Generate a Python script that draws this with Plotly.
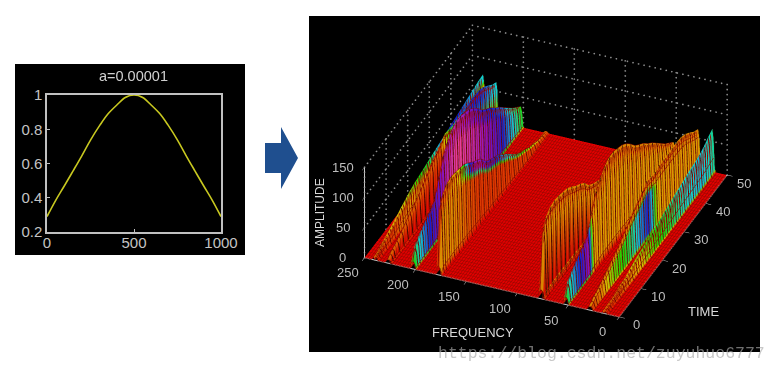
import numpy as np
import plotly.graph_objects as go

W, H = 777, 373
# ---- left chart data
win_x = [0, 50, 100, 150, 200, 250, 304, 350, 400, 450, 500, 550, 600, 650, 696, 750, 800, 850, 900, 950, 1000]
win_y = [.29, .385, .47, .557, .645, .737, .824, .889, .94, .985, 1, .985, .94, .889, .824, .737, .645, .557, .47, .385, .29]
win_xticks = [0, 500, 1000]
win_yticks = [.2, .4, .6, .8, 1]
win_ylabels = ["0.2", "0.4", "0.6", "0.8", "1"]

# ---- spectrogram data
time_rows = [0, 1, 2, 4, 6, 8, 10, 12, 14, 16, 18, 20, 22, 24, 26, 28, 30, 32, 34, 36, 38, 40, 42, 44, 46, 48, 50]
amp_50 = [12, 30, 40, 48, 55, 60, 68, 95, 122, 135, 145, 150, 150, 146, 142, 135, 125, 113, 105, 98, 88, 80, 70, 60, 50, 42, 34]
amp_75 = [15, 115, 125, 133, 135, 133, 130, 127, 120, 112, 106, 98, 85, 78, 73, 68, 58, 50, 40, 31, 25, 20, 14, 10, 6, 4, 3]
amp_100 = [6, 10, 14, 18, 24, 30, 36, 42, 48, 56, 64, 72, 78, 84, 92, 90, 88, 90, 90, 90, 90, 90, 89, 85, 78, 70, 65]
amp_237 = [5, 7, 9, 12, 16, 20, 25, 30, 35, 39, 42, 44, 46, 48, 50, 52, 54, 56, 58, 60, 62, 64, 66, 68, 70, 72, 73]
amp_12 = [3, 4, 5, 7, 9, 11, 12, 16, 20, 23, 25, 28, 30, 33, 35, 38, 40, 43, 45, 47, 50, 52, 53, 56, 60, 66, 71]

c_175_wall = [.12, .12, .12, .12, .12, .11, .1, .08, .07, .06, .05, .05, .05, .05, .05, .05, .05, .05, .05, .05, .05, .05, .05, .05, .05, .05, .05]
c_175_top = [.05, .08, .08, .1, .12, .14, .2, .4, .6, .75, .8, .78, .72, .7, .68, .62, .55, .5, .45, .4, .35, .3, .25, .2, .15, .1, .08]
c_200_wall = [.33, .42, .48, .55, .62, .68, .72, .76, .8, .85, .88, .9, .9, .88, .86, .84, .82, .8, .78, .75, .72, .68, .62, .55, .5, .42, .36]
c_200_top = [.33, .42, .48, .55, .62, .68, .72, .76, .8, .82, .84, .84, .82, .8, .78, .75, .72, .7, .68, .66, .64, .62, .58, .5, .45, .4, .33]
c_224_wall = [.05] * 14 + [.1, .15, .3, .4, .5, .55, .6, .62, .62, .6, .55, .5, .5]
c_224_top = [.08] * 14 + [.2, .3, .45, .55, .6, .62, .65, .66, .66, .62, .58, .52, .5]
c_237_wall = [.03, .03, .03, .05, .05, .06, .08, .1, .1, .12, .12, .12, .12, .14, .14, .14, .14, .14, .14, .14, .14, .14, .14, .14, .14, .14, .14]
c_237_top = [.1, .1, .12, .13, .14, .15, .15, .17, .2, .24, .28, .32, .35, .36, .42, .5, .55, .6, .64, .66, .66, .62, .58, .55, .52, .5, .5]
c_74_wall = [.12] * 27
c_74_top = [.11] * 27
c_50_wall = [.35, .45, .5, .58, .66, .72, .8, .14, .13, .13, .13, .13, .13, .13, .13, .13, .13, .13, .13, .13, .13, .13, .13, .13, .13, .13, .13]
c_50_top = [.35, .45, .5, .58, .66, .72, .8, .14, .11, .11, .11, .11, .11, .11, .11, .11, .11, .11, .11, .11, .11, .11, .11, .11, .11, .11, .11]
c_26_wall = [.05, .06, .08, .1, .14, .2, .26, .3, .33, .36, .42, .48, .55, .6, .66, .5, .2, .13, .13, .13, .13, .13, .13, .13, .13, .13, .13]
c_26_top = [.11] * 27
c_12_wall = [.03, .03, .04, .05, .06, .08, .1, .12, .14, .16, .2, .26, .3, .33, .34, .36, .38, .42, .45, .48, .5, .5, .52, .52, .5, .48, .45]
c_12_top = [.1, .1, .1, .1, .12, .13, .15, .17, .2, .24, .28, .32, .35, .36, .38, .4, .42, .45, .48, .5, .5, .5, .52, .52, .5, .48, .45]

ridges = [
    (12, amp_12, c_12_wall, c_12_top),
    (26, amp_100, c_26_wall, c_26_top),
    (50, amp_50, c_50_wall, c_50_top),
    (74, amp_75, c_74_wall, c_74_top),
    (175, amp_75, c_175_wall, c_175_top),
    (200, amp_50, c_200_wall, c_200_top),
    (224, amp_100, c_224_wall, c_224_top),
    (237, amp_237, c_237_wall, c_237_top),
]
section_offset = [-1, 0, 1.2, 1.8, 2.5, 4, 6]
section_height = [0, .08, .75, .88, 1, .85, 0]
section_colour = [0, 1, 1, 2, 2, 2, 0]  # 0 floor, 1 wall, 2 top

floor_freqs = list(range(0, 251, 5))
freqs = sorted(set(floor_freqs) | {r[0] + o for r in ridges for o in section_offset})
F, T = np.array(freqs, float), np.array(time_rows, float)
Z = np.zeros((len(F), len(T)))
C = np.zeros_like(Z)
for f0, amp, wall, top in ridges:
    for off, h, ci in zip(section_offset, section_height, section_colour):
        i = freqs.index(f0 + off)
        Z[i] = np.array(amp) * h
        C[i] = [0 * np.array(wall), np.array(wall), np.array(top)][ci]

hsv_scale = [[0, "#e00000"], [.08, "#d86000"], [.16, "#d8c000"], [.33, "#20d000"], [.5, "#10d0d0"],
             [.66, "#1020d0"], [.78, "#8010c0"], [.9, "#e040a0"], [1, "#e00000"]]

freq_ticks = [0, 50, 100, 150, 200, 250]
time_ticks = [0, 10, 20, 30, 40, 50]
amp_ticks = [0, 50, 100, 150]

def px(x):
    return x / W
def py(y):
    return 1 - y / H

fig = go.Figure()
fig.add_trace(go.Surface(
    x=T, y=F, z=Z, surfacecolor=C, colorscale=hsv_scale, cmin=0, cmax=1, showscale=False,
    lighting=dict(ambient=1, diffuse=0, specular=0, roughness=1, fresnel=0),
    contours=dict(
        x=dict(show=True, start=0, end=50, size=1, color="#980800", width=1),
        y=dict(show=True, start=0, end=250, size=2.5, color="#880800", width=1),
    ),
    hoverinfo="skip",
))
# dark mesh lines down the ridge walls, one per time row, just in front of each wall
mx, my, mz = [], [], []
for f0, amp, wall, top in ridges:
    for t, a in zip(time_rows, amp):
        for off, h in zip(section_offset[:5], section_height[:5]):
            mx.append(t)
            my.append(f0 + off - .25)
            mz.append(a * h)
        mx.append(None); my.append(None); mz.append(None)
fig.add_trace(go.Scatter3d(x=mx, y=my, z=mz, mode="lines", line=dict(color="#1c0c00", width=1.6),
                           hoverinfo="skip", showlegend=False))
# dotted back walls, drawn as small dots along the grid lines
gx, gy, gz = [], [], []
def dotted(t0, f0, a0, t1, f1, a1, n):
    for k in range(n + 1):
        gx.append(t0 + (t1 - t0) * k / n)
        gy.append(f0 + (f1 - f0) * k / n)
        gz.append(a0 + (a1 - a0) * k / n)
for f in freq_ticks:
    dotted(50, f, 0, 50, f, 150, 18)
for t in time_ticks:
    dotted(t, 250, 0, t, 250, 150, 18)
for a in amp_ticks[1:]:
    dotted(0, 250, a, 50, 250, a, 36)
    dotted(50, 250, a, 50, 0, a, 46)
fig.add_trace(go.Scatter3d(x=gx, y=gy, z=gz, mode="markers", marker=dict(color="#8c8c8c", size=1, line=dict(width=0)),
                           hoverinfo="skip", showlegend=False))

fig.add_trace(go.Scatter(x=win_x, y=win_y, mode="lines", line=dict(color="#c8c820", width=1.6, shape="spline"),
                         hoverinfo="skip", showlegend=False))

ax3 = dict(showbackground=False, showgrid=False, zeroline=False, showspikes=False, showline=True,
           linecolor="#c8c8c8", linewidth=2, ticks="outside", ticklen=6, tickcolor="#c8c8c8",
           showticklabels=False, title=dict(text=""))
lab = dict(showarrow=False, font=dict(family="Liberation Sans", size=13, color="#bdbdbd"))
scene_ann = []
for f in freq_ticks:
    scene_ann.append(dict(lab, x=0, y=f, z=0, text=str(f), xshift=-17, yshift=-15))
for t in time_ticks:
    scene_ann.append(dict(lab, x=t, y=0, z=0, text=str(t), xshift=17, yshift=-8))
for a in amp_ticks:
    scene_ann.append(dict(lab, x=0, y=250, z=a, text=str(a), xshift=-22, yshift=0))

scene_dom = dict(x=[310 / W, 760 / W], y=[py(352), py(16)])
ASPECT = 1.75
cen = dict(x=-.064, y=.043, z=-.064)
ann = dict(xref="paper", yref="paper", showarrow=False, xanchor="center", yanchor="middle")
fnt = dict(family="Liberation Sans", size=13, color="#d8d8d8")
tickf = dict(family="Liberation Sans", size=15, color="#c4c4c4")
fig.update_layout(
    width=W, height=H, margin=dict(l=0, r=0, t=0, b=0, autoexpand=False), paper_bgcolor="white", plot_bgcolor="black",
    showlegend=False,
    xaxis=dict(domain=[px(47), px(221)], range=[0, 1000], tickvals=win_xticks, ticktext=[str(v) for v in win_xticks],
               showgrid=False, zeroline=False, showline=True, mirror=True, linecolor="#c0c0c0", linewidth=1.5,
               ticks="inside", ticklen=3, tickcolor="#c0c0c0", tickfont=tickf, ticklabelstandoff=-4),
    yaxis=dict(domain=[py(232), py(95)], range=[.2, 1], tickvals=win_yticks, ticktext=win_ylabels,
               showgrid=False, zeroline=False, showline=True, mirror=True, linecolor="#c0c0c0", linewidth=1.5,
               ticks="inside", ticklen=3, tickcolor="#c0c0c0", tickfont=tickf),
    scene=dict(
        domain=scene_dom, bgcolor="black", annotations=scene_ann,
        xaxis=dict(ax3, range=[0, 50], tickvals=time_ticks),
        yaxis=dict(ax3, range=[0, 250], tickvals=freq_ticks),
        zaxis=dict(ax3, range=[0, 150], tickvals=amp_ticks),
        aspectmode="manual", aspectratio=dict(x=.986 * ASPECT * .96, y=1 * ASPECT * .94, z=.377 * ASPECT * .98),
        camera=dict(projection=dict(type="orthographic"), up=dict(x=0, y=0, z=1),
                    center=cen,
                    eye=dict(x=-.768 * 2 + cen["x"], y=-.323 * 2 + cen["y"], z=.5535 * 2 + cen["z"])),
    ),
    shapes=[
        dict(type="rect", xref="paper", yref="paper", x0=px(15), x1=px(245), y0=py(255), y1=py(64),
             fillcolor="black", line=dict(width=0), layer="below"),
        dict(type="rect", xref="paper", yref="paper", x0=px(309), x1=px(760), y0=py(352), y1=py(16),
             fillcolor="black", line=dict(width=0), layer="below"),
        dict(type="path", xref="paper", yref="paper", fillcolor="#1f4f8f", line=dict(width=0),
             path="M{} {} L{} {} L{} {} L{} {} L{} {} L{} {} L{} {} Z".format(
                 px(265), py(143), px(281), py(143), px(281), py(127), px(298), py(158),
                 px(281), py(189), px(281), py(173), px(265), py(173))),
    ],
    annotations=[
        dict(ann, text="a=0.00001", x=px(133), y=py(76), font=dict(family="Liberation Sans", size=14.5, color="#d0d0d0")),
        dict(ann, text="FREQUENCY", x=px(473), y=py(332), font=fnt),
        dict(ann, text="TIME", x=px(703), y=py(311), font=fnt),
        dict(ann, text="AMPLITUDE", x=px(320), y=py(213), textangle=-90, font=dict(fnt, size=12)),
        dict(ann, text="https://blog.csdn.net/zuyuhuo6777", x=px(601), y=py(353),
             font=dict(family="Liberation Mono", size=16.5, color="rgba(170,170,170,0.65)")),
    ],
)
fig.write_html("out.html", config=dict(displayModeBar=False), post_script="document.body.style.margin='0';")
